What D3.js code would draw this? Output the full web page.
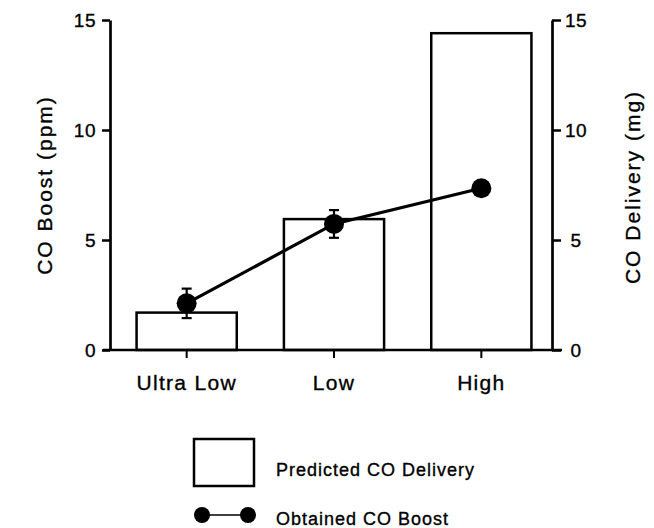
<!DOCTYPE html>
<html>
<head>
<meta charset="utf-8">
<script src="https://cdn.jsdelivr.net/npm/d3@7"></script>
<style>
  body { margin: 0; background: #fff; }
  text { font-family: "Liberation Sans", Arial, Helvetica, sans-serif; fill: #000; stroke: #000; stroke-width: 0.35px; }
</style>
</head>
<body>
<div class="chart"></div>
<script>
var svgWidth = 654;
var svgHeight = 528;

// data
var categories = ["Ultra Low", "Low", "High"];
var deliveryMg = [1.7, 5.95, 14.4];      // bars, right axis
var boostPpm = [2.12, 5.73, 7.35];       // points, left axis
var boostErr = [0.67, 0.63, 0.25];
var yTicks = [0, 5, 10, 15];

var plot = { left: 110, right: 552, top: 20, bottom: 350 };

var svg = d3.select(".chart")
  .append("svg")
  .attr("width", svgWidth)
  .attr("height", svgHeight);

var xScale = d3.scaleBand()
  .domain(categories)
  .range([113, 555])
  .paddingInner(0.32)
  .paddingOuter(0.16);

var yLeft = d3.scaleLinear().domain([0, 15]).range([plot.bottom, plot.top]);
var yRight = d3.scaleLinear().domain([0, 15]).range([plot.bottom, plot.top]);

var rows = categories.map((c, i) => ({
  cat: c, mg: deliveryMg[i], ppm: boostPpm[i], err: boostErr[i]
}));

// bars
svg.append("g").selectAll("rect")
  .data(rows)
  .enter()
  .append("rect")
  .attr("x", d => xScale(d.cat))
  .attr("width", xScale.bandwidth())
  .attr("y", d => yRight(d.mg))
  .attr("height", d => yRight(0) - yRight(d.mg))
  .attr("fill", "#fff")
  .attr("stroke", "#000")
  .attr("stroke-width", 2.5);

// left axis
var leftAxis = d3.axisLeft(yLeft).tickValues(yTicks).tickSize(8).tickPadding(6).tickSizeOuter(0);
var gl = svg.append("g").attr("transform", `translate(${plot.left},0)`).call(leftAxis);
gl.selectAll("text").style("font-size", "19px").style("letter-spacing", "0.5px");

// right axis
var rightAxis = d3.axisRight(yRight).tickValues(yTicks).tickSize(9).tickSizeOuter(0);
var gr = svg.append("g").attr("transform", `translate(${plot.right},0)`).call(rightAxis);
gr.selectAll("text").style("font-size", "19px").style("letter-spacing", "0.5px")
  .attr("x", 24).attr("text-anchor", "middle");

[gl, gr].forEach(g => {
  g.select(".domain").attr("stroke-width", 2.7);
  g.selectAll(".tick line").attr("stroke-width", 2.5);
});

// bottom axis (ticks + labels), baseline drawn separately
var bottomAxis = d3.axisBottom(xScale).tickSize(8).tickPadding(17).tickSizeOuter(0);
var gb = svg.append("g").attr("transform", `translate(0,${plot.bottom})`).call(bottomAxis);
gb.select(".domain").remove();
gb.selectAll(".tick line").attr("stroke-width", 2);
gb.selectAll("text").style("font-size", "21px").style("letter-spacing", "1.3px");

svg.append("line")
  .attr("x1", plot.left - 7).attr("x2", plot.right + 10)
  .attr("y1", yLeft(0)).attr("y2", yLeft(0))
  .attr("stroke", "#000").attr("stroke-width", 2.5);

// line + error bars + markers
var cx = d => xScale(d.cat) + xScale.bandwidth() / 2;

svg.append("path")
  .datum(rows)
  .attr("fill", "none")
  .attr("stroke", "#000")
  .attr("stroke-width", 3.2)
  .attr("d", d3.line().x(cx).y(d => yLeft(d.ppm)));

var errG = svg.append("g").attr("stroke", "#000").attr("stroke-width", 2.2);
rows.forEach(d => {
  var x = cx(d);
  errG.append("line").attr("x1", x).attr("x2", x)
    .attr("y1", yLeft(d.ppm + d.err)).attr("y2", yLeft(d.ppm - d.err));
  [d.ppm + d.err, d.ppm - d.err].forEach(v => {
    errG.append("line").attr("x1", x - 5).attr("x2", x + 5)
      .attr("y1", yLeft(v)).attr("y2", yLeft(v));
  });
});

svg.append("g").selectAll("circle")
  .data(rows)
  .enter()
  .append("circle")
  .attr("cx", cx)
  .attr("cy", d => yLeft(d.ppm))
  .attr("r", 10)
  .attr("fill", "#000");

// axis titles
svg.append("text")
  .attr("transform", `translate(52, ${(plot.top + plot.bottom) / 2}) rotate(-90)`)
  .attr("text-anchor", "middle")
  .style("font-size", "21px").style("letter-spacing", "2px")
  .text("CO Boost (ppm)");

svg.append("text")
  .attr("transform", `translate(640, ${(plot.top + plot.bottom) / 2 + 2}) rotate(-90)`)
  .attr("text-anchor", "middle")
  .style("font-size", "21px").style("letter-spacing", "2px")
  .text("CO Delivery (mg)");

// legend
var legend = svg.append("g");
legend.append("rect")
  .attr("x", 194).attr("y", 439).attr("width", 60).attr("height", 47)
  .attr("fill", "#fff").attr("stroke", "#000").attr("stroke-width", 2.5);
legend.append("text").attr("x", 276).attr("y", 476)
  .style("font-size", "18px").style("letter-spacing", "1px")
  .text("Predicted CO Delivery");

legend.append("line")
  .attr("x1", 202).attr("x2", 248).attr("y1", 515).attr("y2", 515)
  .attr("stroke", "#000").attr("stroke-width", 1.5);
legend.selectAll("circle.lg")
  .data([202, 248])
  .enter()
  .append("circle")
  .attr("cx", d => d).attr("cy", 515).attr("r", 8).attr("fill", "#000");
legend.append("text").attr("x", 276).attr("y", 525)
  .style("font-size", "18px").style("letter-spacing", "1px")
  .text("Obtained CO Boost");
</script>
</body>
</html>
